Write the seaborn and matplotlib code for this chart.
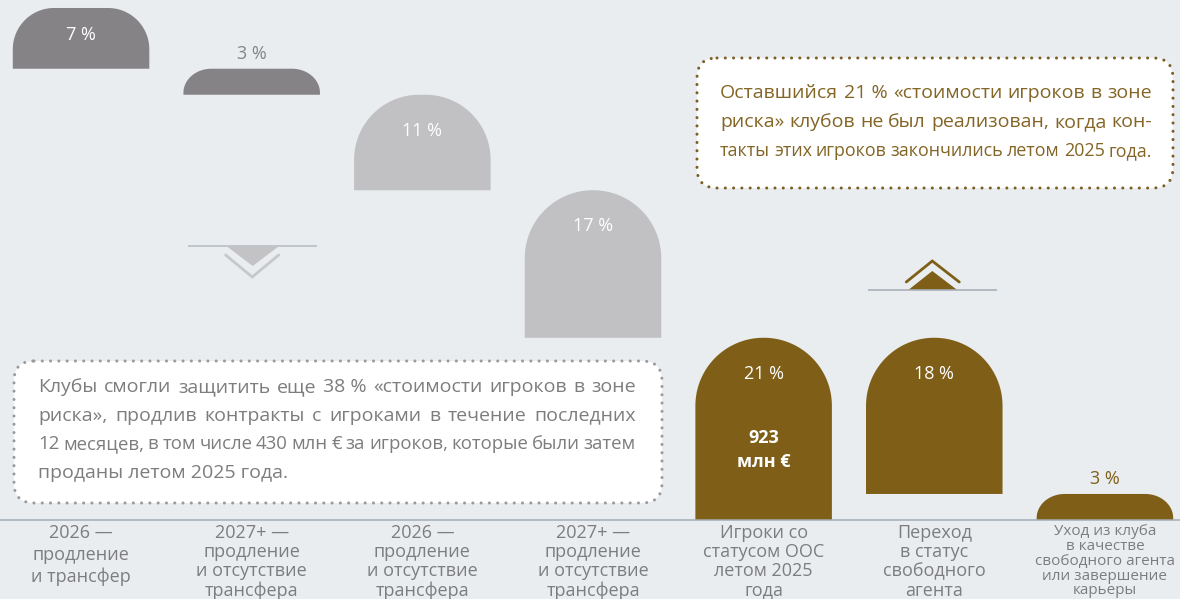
import numpy as np
import pandas as pd
import matplotlib
matplotlib.use("Agg")
import matplotlib.pyplot as plt
import seaborn as sns
from matplotlib.patches import FancyBboxPatch, Polygon

# данные
keys = ["c1", "c2", "c3", "c4", "c5", "c6", "c7"]
tick_labels = [
    "2026 —\nпродление\nи трансфер",
    "2027+ —\nпродление\nи отсутствие\nтрансфера",
    "2026 —\nпродление\nи отсутствие\nтрансфера",
    "2027+ —\nпродление\nи отсутствие\nтрансфера",
    "Игроки со\nстатусом ООС\nлетом 2025\nгода",
    "Переход\nв статус\nсвободного\nагента",
    "Уход из клуба\nв качестве\nсвободного агента\nили завершение\nкарьеры",
]
values = [7, 3, 11, 17, 21, 18, 3]
bottoms = [52, 49, 38, 21, 0, 3, 0]
value_labels = ["7 %", "3 %", "11 %", "17 %", "21 %", "18 %", "3 %"]
colors = ["#858386", "#858386", "#c1c0c2", "#c1c0c2", "#7f5f18", "#7f5f18", "#7f5f18"]

note_right = [
    "Оставшийся 21\u00a0% «стоимости игроков в зоне",
    "риска» клубов не был реализован, когда кон-",
    "такты этих игроков закончились летом 2025 года.",
]
note_left = [
    "Клубы смогли защитить еще 38\u00a0% «стоимости игроков в зоне",
    "риска», продлив контракты с игроками в течение последних",
    "12 месяцев, в том числе 430 млн € за игроков, которые были затем",
    "проданы летом 2025 года.",
]

BG = "#e9edf0"
BROWN = "#7f5f18"
GRAY_TXT = "#7d7d7f"

sns.set_theme(style="white")
plt.rcParams["font.family"] = ["Open Sans", "DejaVu Sans"]

W, H = 1180, 599
fig = plt.figure(figsize=(W / 100, H / 100), dpi=100, facecolor=BG)
base_px = 79
ax = fig.add_axes([0, base_px / H, 1, (H - base_px) / H])
ax.set_facecolor(BG)

df = pd.DataFrame({"key": keys, "value": values})
sns.barplot(data=df, x="key", y="value", hue="key", order=keys, hue_order=keys,
            palette=colors, width=0.8, legend=False, ax=ax, saturation=1)

ax.set_xlim(-0.475, 6.44)
ax.set_ylim(0, 59.92)
ax.set_xlabel("")
ax.set_ylabel("")
ax.set_yticks([])
for s in ["top", "left", "right"]:
    ax.spines[s].set_visible(False)
ax.spines["bottom"].set_color("#a3acb6")
ax.spines["bottom"].set_linewidth(1.1)
ax.set_xticks(range(len(keys)))
ax.set_xticklabels(tick_labels, fontsize=13, color=GRAY_TXT)
ax.tick_params(axis="x", length=0, pad=3)
for i, t in enumerate(ax.get_xticklabels()):
    t.set_linespacing(1.25 if i == 0 else 1.08)
    if i == 6:
        t.set_fontsize(11)
        t.set_linespacing(0.98)

# пиксели на единицу данных
px_x = W / (6.44 + 0.475)
px_y = (H - base_px) / 59.92

# скругленные столбцы
for p, b, v, lab, c in zip(list(ax.patches), bottoms, values, value_labels, colors):
    x0 = p.get_x()
    w = p.get_width()
    p.remove()
    x1 = x0 + w
    y0, y1 = b, b + v
    h_px = v * px_y
    r = min(68, max(0.68 * h_px, 28))
    ry_px = min(r, 0.92 * h_px)
    rx, ry = r / px_x, ry_px / px_y
    th = np.linspace(np.pi, np.pi / 2, 30)
    left = np.c_[x0 + rx + rx * np.cos(th), y1 - ry + ry * np.sin(th)]
    th2 = np.linspace(np.pi / 2, 0, 30)
    right = np.c_[x1 - rx + rx * np.cos(th2), y1 - ry + ry * np.sin(th2)]
    pts = np.vstack([[x0, y0], left, right, [x1, y0], [x0, y0]])
    ax.add_patch(Polygon(pts, closed=True, facecolor=c, edgecolor="none", zorder=2))
    xc = x0 + w / 2
    if h_px < 40:
        ax.text(xc, y1 + 15 / px_y, lab, ha="center", va="center", fontsize=13,
                color=c, zorder=3)
    else:
        yl = max(y1 - 36 / px_y, (y0 + y1) / 2 + 3 / px_y)
        ax.text(xc, yl, lab, ha="center", va="center", fontsize=13,
                color="white", zorder=3)

ax.text(4, 21 - 100 / px_y, "923", ha="center", va="center", fontsize=13,
        fontweight="bold", color="white", zorder=3)
ax.text(4, 21 - 124 / px_y, "млн €", ha="center", va="center", fontsize=13,
        fontweight="bold", color="white", zorder=3)

# слой для аннотаций в пикселях
ov = fig.add_axes([0, 0, 1, 1], zorder=5)
ov.set_xlim(0, W)
ov.set_ylim(H, 0)
ov.axis("off")
ov.patch.set_visible(False)

# стрелка вниз (столбец 2)
cx = (1 + 0.475) * px_x
ov.plot([cx - 64, cx + 65], [246, 246], color="#b9bfc6", lw=1.2, solid_capstyle="butt")
ov.add_patch(Polygon([[cx - 24, 247], [cx + 26, 247], [cx + 1, 266]], closed=True,
                     facecolor="#c3c2c4", edgecolor="none"))
ov.plot([cx - 26, cx + 0.5, cx + 27], [255, 277, 255], color="#c8c7ca", lw=2,
        solid_joinstyle="miter")

# стрелка вверх (столбец 6)
cx = (5 + 0.475) * px_x
ov.plot([cx - 66, cx + 63], [290, 290], color="#a9b0b8", lw=1.2, solid_capstyle="butt")
ov.add_patch(Polygon([[cx - 26, 290], [cx + 23, 290], [cx - 2, 271]], closed=True,
                     facecolor=BROWN, edgecolor="none"))
ov.plot([cx - 28, cx - 2, cx + 25], [282, 261, 282], color=BROWN, lw=2,
        solid_joinstyle="miter")

# рамки с текстом
def note_box(x0, y0, x1, y1, ec):
    box = FancyBboxPatch((x0, y0), x1 - x0, y1 - y0,
                         boxstyle="round,pad=0,rounding_size=20",
                         facecolor="white", edgecolor=ec, lw=2.2,
                         linestyle=(0, (0.01, 2.7)), capstyle="round")
    ov.add_patch(box)

note_box(697, 58, 1173, 188, "#7a5e22")
note_box(14, 361, 662, 503, "#9a9a9c")

renderer = fig.canvas.get_renderer()

def write_lines(lines, x0, x1, y_first, step, color, size, justify_last=False):
    for k, line in enumerate(lines):
        y = y_first + k * step
        if k == len(lines) - 1 and not justify_last:
            ov.text(x0, y, line, ha="left", va="center", fontsize=size, color=color)
            continue
        words = line.split(" ")
        ts = [ov.text(0, y, wd, ha="left", va="center", fontsize=size, color=color)
              for wd in words]
        ws = [t.get_window_extent(renderer).width for t in ts]
        gap = (x1 - x0 - sum(ws)) / (len(words) - 1)
        if gap < 3.5:
            # строка не помещается — ужимаем шрифт
            scale = (x1 - x0 - 3.5 * (len(words) - 1)) / sum(ws)
            for t in ts:
                t.set_fontsize(size * scale)
            ws = [t.get_window_extent(renderer).width for t in ts]
            gap = (x1 - x0 - sum(ws)) / (len(words) - 1)
        xpos = x0
        for t, wdt in zip(ts, ws):
            t.set_x(xpos)
            xpos += wdt + gap

write_lines(note_right, 720, 1152, 93, 29, "#836525", 14, justify_last=True)
write_lines(note_left, 38, 636, 387, 28.7, GRAY_TXT, 14)

fig.savefig("out.png", dpi=100, facecolor=BG)
